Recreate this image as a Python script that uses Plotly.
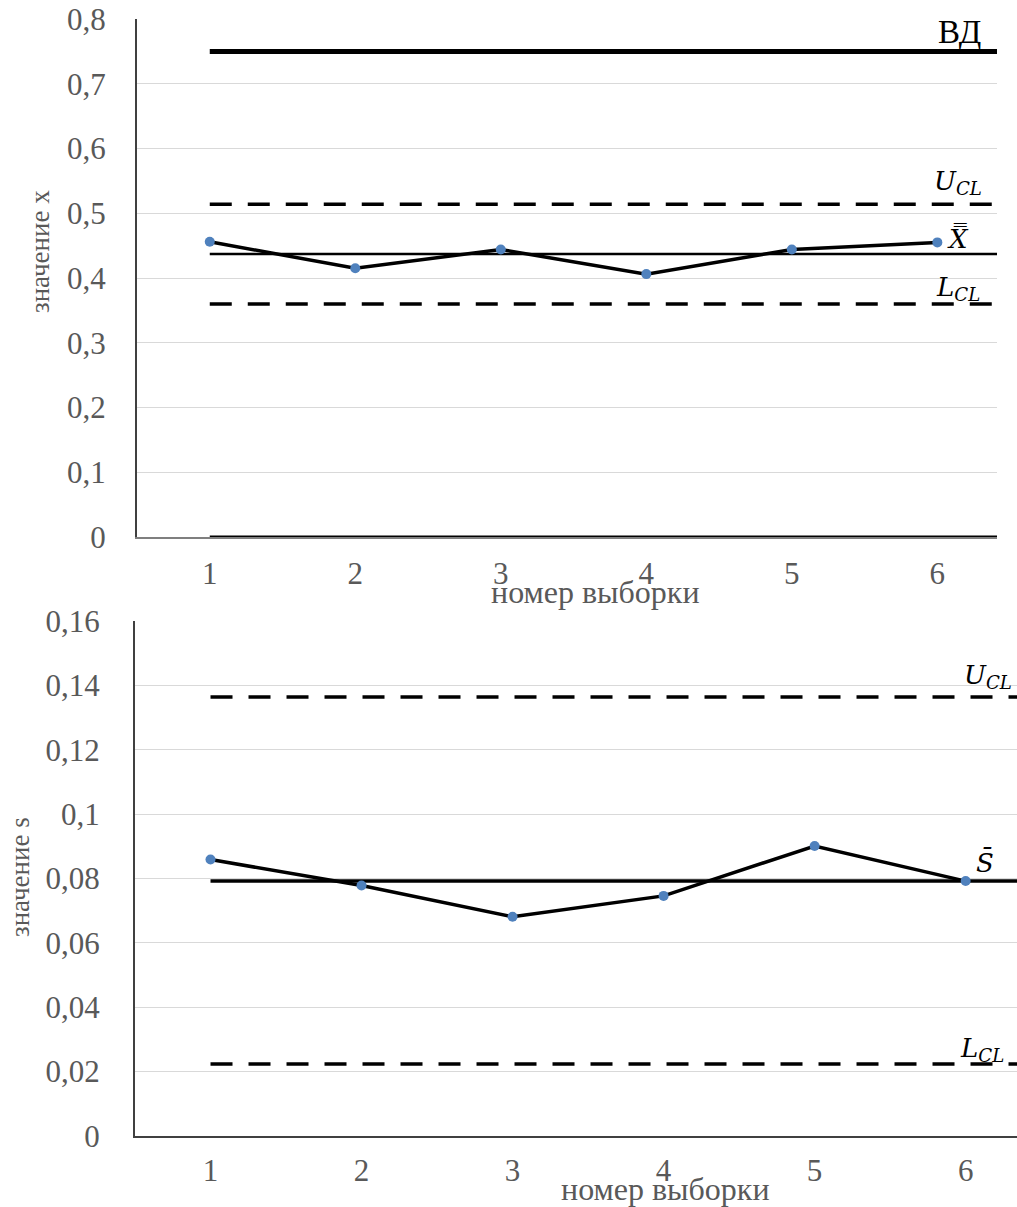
import plotly.graph_objects as go

# ---- data ----
samples = [1, 2, 3, 4, 5, 6]
line_samples = [1, 2, 3, 4, 5, 6, 7]   # control lines continue past the last sample

x_values = [0.456, 0.415, 0.444, 0.406, 0.444, 0.455]
x_mean = 0.437
x_ucl = 0.514
x_lcl = 0.360
x_vd = 0.75
x_nd = 0.0

s_values = [0.0859, 0.0778, 0.0681, 0.0746, 0.0901, 0.0792]
s_mean = 0.0792
s_ucl = 0.1364
s_lcl = 0.0224

tick_labels = ["1", "2", "3", "4", "5", "6"]

W, H = 1017, 1207
SERIF = "Liberation Serif, Times New Roman, serif"
GRAY = "#595959"
BLUE = "#4F81BD"

fig = go.Figure()

def const(v):
    return [v] * len(line_samples)

def hline(val, xa, ya, width, dash="solid"):
    fig.add_trace(go.Scatter(x=line_samples, y=const(val), mode="lines",
                             line=dict(color="black", width=width, dash=dash),
                             xaxis=xa, yaxis=ya, showlegend=False, hoverinfo="skip"))

# top chart
hline(x_vd, "x", "y", 5)
hline(x_ucl, "x", "y", 3.5, "22px,16px")
hline(x_mean, "x", "y", 2.5)
hline(x_lcl, "x", "y", 3.5, "22px,16px")
hline(x_nd, "x", "y", 3)
fig.add_trace(go.Scatter(x=samples, y=x_values, mode="lines+markers",
                         line=dict(color="black", width=3.5),
                         marker=dict(color=BLUE, size=10),
                         xaxis="x", yaxis="y", showlegend=False))

# bottom chart
hline(s_ucl, "x2", "y2", 3.5, "22px,16px")
hline(s_mean, "x2", "y2", 3.5)
hline(s_lcl, "x2", "y2", 3.5, "22px,16px")
fig.add_trace(go.Scatter(x=samples, y=s_values, mode="lines+markers",
                         line=dict(color="black", width=3.5),
                         marker=dict(color=BLUE, size=10),
                         xaxis="x2", yaxis="y2", showlegend=False))

tickfont = dict(family=SERIF, size=31, color=GRAY)

fig.update_layout(
    width=W, height=H,
    margin=dict(l=0, r=0, t=0, b=0, autoexpand=False),
    paper_bgcolor="white", plot_bgcolor="white",
    separators=", ",
    showlegend=False,
    xaxis=dict(domain=[137 / W, 997 / W], anchor="y", range=[0.5, 6.41], automargin=False,
               tickvals=samples, ticktext=tick_labels, showgrid=False, zeroline=False,
               showline=True, linecolor="#7f7f7f", linewidth=2,
               tickfont=tickfont, ticks="", ticklabelstandoff=8),
    yaxis=dict(domain=[1 - 537 / H, 1 - 19 / H], anchor="x", range=[0, 0.8], dtick=0.1,
               automargin=False,
               showgrid=True, gridcolor="#d9d9d9", gridwidth=1, zeroline=False,
               showline=True, linecolor="#404040", linewidth=2,
               tickfont=tickfont, ticks="", ticklabelstandoff=23),
    xaxis2=dict(domain=[135 / W, 1.0], anchor="y2", range=[0.5, 6.34], automargin=False,
                tickvals=samples, ticktext=tick_labels, showgrid=False, zeroline=False,
                showline=True, linecolor="#404040", linewidth=2,
                tickfont=tickfont, ticks="", ticklabelstandoff=6),
    yaxis2=dict(domain=[1 - 1136 / H, 1 - 621 / H], anchor="x2", range=[0, 0.16], dtick=0.02,
                automargin=False,
                showgrid=True, gridcolor="#d9d9d9", gridwidth=1, zeroline=False,
                showline=True, linecolor="#404040", linewidth=2,
                tickfont=tickfont, ticks="", ticklabelstandoff=27),
)

labfont = dict(family="DejaVu Serif, serif", size=26, color="black")
annots = [
    dict(x=6.15, y=x_vd, xref="x", yref="y", text="ВД", yshift=19,
         font=dict(family=SERIF, size=33, color="black")),
    dict(x=6.14, y=x_ucl, xref="x", yref="y", text="<i>U</i><sub><i>CL</i></sub>", yshift=22),
    dict(x=6.14, y=x_mean, xref="x", yref="y", text="<i>X̿</i>", yshift=16),
    dict(x=6.14, y=x_lcl, xref="x", yref="y", text="<i>L</i><sub><i>CL</i></sub>", yshift=15),
    dict(x=6.15, y=s_ucl, xref="x2", yref="y2", text="<i>U</i><sub><i>CL</i></sub>", yshift=20),
    dict(x=6.13, y=s_mean, xref="x2", yref="y2", text="<i>S̄</i>", yshift=19),
    dict(x=6.11, y=s_lcl, xref="x2", yref="y2", text="<i>L</i><sub><i>CL</i></sub>", yshift=14),
]
for a in annots:
    a.setdefault("font", labfont)
    fig.add_annotation(showarrow=False, xanchor="center", yanchor="middle", **a)

titlefont = dict(family=SERIF, size=32, color=GRAY)
ytitlefont = dict(family=SERIF, size=27, color=GRAY)
fig.add_annotation(x=40 / W, y=1 - 252 / H, xref="paper", yref="paper", text="значение x",
                   textangle=-90, showarrow=False, font=ytitlefont, xanchor="center", yanchor="middle")
fig.add_annotation(x=595 / W, y=1 - 592 / H, xref="paper", yref="paper", text="номер выборки",
                   showarrow=False, font=titlefont, xanchor="center", yanchor="middle")
fig.add_annotation(x=20 / W, y=1 - 877 / H, xref="paper", yref="paper", text="значение s",
                   textangle=-90, showarrow=False, font=ytitlefont, xanchor="center", yanchor="middle")
fig.add_annotation(x=665 / W, y=1 - 1189 / H, xref="paper", yref="paper", text="номер выборки",
                   showarrow=False, font=titlefont, xanchor="center", yanchor="middle")

fig.write_html("out.html")
